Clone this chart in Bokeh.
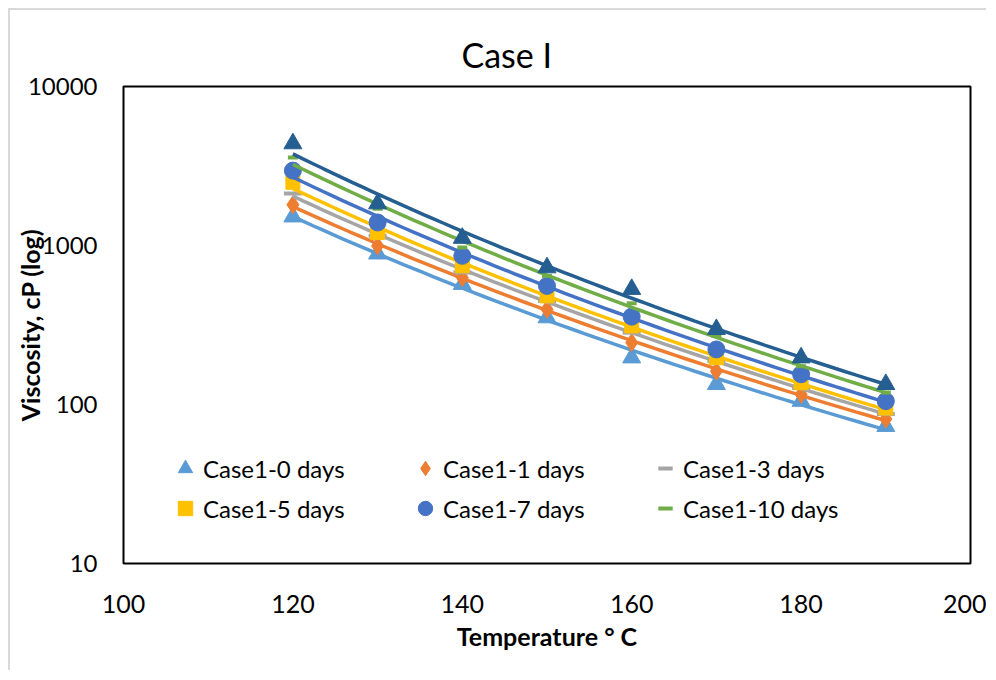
import numpy as np
from bokeh.plotting import figure
from bokeh.models import Legend, LegendItem, FixedTicker, Title
from bokeh.embed import file_html
from bokeh.resources import INLINE

temps = [120, 130, 140, 150, 160, 170, 180, 190]
case_0 = [1517, 887, 571, 352, 197, 134, 105, 73]
case_1 = [1804, 995, 628, 397, 245, 162, 116, 81]
case_3 = [2127, 1151, 676, 448, 283, 188, 127, 87]
case_5 = [2496, 1208, 745, 482, 312, 197, 137, 95]
case_7 = [2958, 1396, 861, 557, 357, 222, 155, 105]
case_10 = [3575, 1702, 971, 644, 433, 270, 174, 119]
case_15 = [4375, 1833, 1113, 726, 531, 297, 197, 134]

labels = ["Case1-0 days", "Case1-1 days", "Case1-3 days",
          "Case1-5 days", "Case1-7 days", "Case1-10 days", None]
series = [case_0, case_1, case_3, case_5, case_7, case_10, case_15]
colors = ["#5B9BD5", "#ED7D31", "#A5A5A5", "#FFC000", "#4472C4", "#70AD47", "#255E91"]
markers = ["triangle", "diamond", "dash", "square", "circle", "dash", "triangle"]
sizes = [18, 18, 18, 14, 17, 10, 18]

FONT = "Lato"

p = figure(width=978, height=662, output_backend="svg", toolbar_location=None,
           y_axis_type="log", x_range=(100, 200), y_range=(10, 10000),
           min_border_left=113, min_border_right=18, min_border_top=76, min_border_bottom=109)
p.styles = {"margin-left": "8px", "margin-top": "8px",
            "border-left": "2px solid #d9d9d9", "border-top": "2px solid #d9d9d9"}

p.title = Title(text="Case I", text_font=FONT, text_font_size="34px", text_font_style="normal",
                text_color="#000000", align="left", offset=338, standoff=24)

p.grid.visible = False
p.outline_line_color = "#000000"
p.outline_line_width = 2

for ax in (p.xaxis[0], p.yaxis[0]):
    ax.axis_line_color = None
    ax.major_tick_line_color = None
    ax.minor_tick_line_color = None
    ax.major_label_text_font = FONT
    ax.major_label_text_font_size = "25px"
    ax.major_label_text_color = "#000000"
    ax.axis_label_text_font = FONT
    ax.axis_label_text_font_size = "25px"
    ax.axis_label_text_font_style = "bold"
    ax.axis_label_text_color = "#000000"

p.yaxis.major_label_text_font_size = "24px"
p.xaxis.ticker = FixedTicker(ticks=[100, 120, 140, 160, 180, 200])
p.yaxis.ticker = FixedTicker(ticks=[10, 100, 1000, 10000])
p.yaxis.major_label_overrides = {10: "10", 100: "100", 1000: "1000", 10000: "10000"}
p.xaxis.major_label_standoff = 25
p.yaxis.major_label_standoff = 20
p.xaxis.axis_label = "Temperature \u00b0 C"
p.xaxis.axis_label_standoff = 5
p.yaxis.axis_label = "Viscosity, cP (log)"
p.yaxis.axis_label_standoff = -20

tx = np.array(temps, dtype=float)
xs_fit = np.linspace(min(temps), max(temps), 60)
items = []
for vals, col, mk, sz, lab in zip(series, colors, markers, sizes, labels):
    b, a = np.polyfit(np.log(tx), np.log(np.array(vals, dtype=float)), 1)
    ys_fit = np.exp(a) * xs_fit ** b
    p.line(xs_fit, ys_fit, line_color=col, line_width=3.5)
    if mk == "dash":
        r = p.scatter(temps, vals, marker=mk, size=sz, line_color=col, line_width=4, fill_color=col)
    else:
        r = p.scatter(temps, vals, marker=mk, size=sz, line_color=col, fill_color=col)
    if lab:
        items.append(LegendItem(label=lab, renderers=[r]))

legend = Legend(items=items, orientation="horizontal", ncols=3, location=(44, 37),
                padding=0, margin=0, spacing=4, glyph_width=36, glyph_height=36,
                label_standoff=0, label_width=200,
                label_text_font=FONT, label_text_font_size="24px", label_text_color="#000000",
                border_line_color=None, background_fill_alpha=0)
p.add_layout(legend, "center")

open("out.html", "w").write(file_html(p, INLINE))
